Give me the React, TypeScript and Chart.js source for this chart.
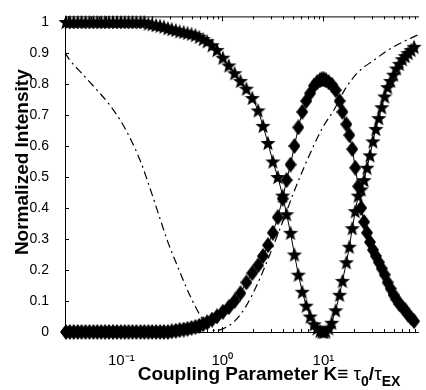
import React, { useEffect, useRef } from 'react';
import { Chart, registerables } from 'chart.js';

Chart.register(...registerables);

// ---- data ----
const markerK = [
  0.0283, 0.0309, 0.0338, 0.037, 0.0404, 0.0442, 0.0484, 0.0529, 0.0578, 0.0632,
  0.0692, 0.0756, 0.0827, 0.0904, 0.0989, 0.108, 0.118, 0.129, 0.141, 0.155,
  0.169, 0.185, 0.202, 0.221, 0.242, 0.264, 0.289, 0.316, 0.346, 0.378,
  0.414, 0.452, 0.495, 0.541,
  0.591, 0.647, 0.707, 0.791, 0.884, 1.011, 1.157, 1.323, 1.512, 1.729,
  1.977, 2.261, 2.528, 2.828, 3.162, 3.536, 3.955, 4.324, 4.729, 5.171,
  5.654, 6.183, 6.762, 7.394, 8.088, 8.647, 9.247, 9.67, 10.11, 10.57,
  11.31, 12.09, 13.22, 14.46, 15.46, 16.91, 18.08, 19.33, 20.68, 22.12,
  23.65, 25.29, 27.04, 28.92, 30.93, 33.07, 35.36, 37.82, 40.44, 43.24,
  46.24, 49.45, 52.88, 56.55, 60.47, 64.67, 69.15, 73.95, 79.09,
];

const starIntensity = [
  1, 1, 1, 1, 1, 1, 1, 1, 1, 1,
  1, 1, 1, 1, 1, 1, 1, 1, 1, 1,
  1, 0.995, 0.993, 0.99, 0.988, 0.985, 0.98, 0.977, 0.974, 0.97,
  0.968, 0.965, 0.962, 0.958,
  0.952, 0.945, 0.938, 0.925, 0.91, 0.885, 0.86, 0.835, 0.81, 0.785,
  0.755, 0.715, 0.665, 0.61, 0.55, 0.5, 0.44, 0.38, 0.32, 0.25,
  0.185, 0.13, 0.085, 0.05, 0.025, 0.012, 0.004, 0.001, 0, 0.002,
  0.012, 0.03, 0.07, 0.12, 0.165, 0.225, 0.275, 0.335, 0.39, 0.44,
  0.46, 0.49, 0.53, 0.57, 0.615, 0.655, 0.69, 0.725, 0.76, 0.79,
  0.81, 0.83, 0.85, 0.865, 0.88, 0.89, 0.9, 0.91, 0.92,
];

const diamondIntensity = [
  0, 0, 0, 0, 0, 0, 0, 0, 0, 0,
  0, 0, 0, 0, 0, 0, 0, 0, 0, 0,
  0, 0, 0, 0, 0, 0, 0, 0.002, 0.004, 0.006,
  0.008, 0.01, 0.013, 0.016,
  0.02, 0.025, 0.031, 0.04, 0.05, 0.065, 0.08, 0.1, 0.125, 0.16,
  0.19, 0.215, 0.245, 0.28, 0.32, 0.37, 0.43, 0.49, 0.54, 0.6,
  0.66, 0.71, 0.745, 0.77, 0.795, 0.805, 0.812, 0.815, 0.815, 0.812,
  0.805, 0.798, 0.78, 0.745, 0.71, 0.67, 0.635, 0.59, 0.53, 0.47,
  0.4, 0.355, 0.32, 0.29, 0.265, 0.245, 0.225, 0.205, 0.185, 0.16,
  0.14, 0.12, 0.105, 0.09, 0.08, 0.07, 0.055, 0.045, 0.035,
];

const dashK = [
  0.0277, 0.0309, 0.0404, 0.0565, 0.0756, 0.0989, 0.1265, 0.155, 0.185, 0.231,
  0.289, 0.362, 0.452, 0.565, 0.647, 0.739, 0.846, 1.011, 1.323, 1.729,
  2.261, 2.828, 3.536, 4.229, 4.945, 6.613, 9.67, 12.93, 16.17, 21.63,
  31.62, 49.45, 88.4,
];
const dashIntensity = [
  0.9, 0.877, 0.835, 0.783, 0.735, 0.68, 0.615, 0.55, 0.48, 0.385,
  0.29, 0.21, 0.135, 0.07, 0.038, 0.015, 0.005, 0.01, 0.035, 0.085,
  0.16, 0.235, 0.315, 0.38, 0.44, 0.54, 0.655, 0.72, 0.78, 0.835,
  0.877, 0.92, 0.96,
];

const yTickValues = [0, 0.1, 0.2, 0.3, 0.4, 0.5, 0.6, 0.7, 0.8, 0.9, 1];
const yTickLabels = ['0', '0.1', '0.2', '0.3', '0.4', '0.5', '0.6', '0.7', '0.8', '0.9', '1'];
const xTickValues = [0.1, 1, 10];
const xTickLabels = ['10\u207B\u00B9', '10\u2070', '10\u00B9'];
const xMinorTicks = [
  0.03, 0.04, 0.05, 0.06, 0.07, 0.08, 0.09,
  0.2, 0.3, 0.4, 0.5, 0.6, 0.7, 0.8, 0.9,
  2, 3, 4, 5, 6, 7, 8, 9,
  20, 30, 40, 50, 60, 70, 80,
];
const xMin = 0.0277;
const xMax = 88.4;
const yMin = 0;
const yMax = 1.018;

const yTitle = 'Normalized Intensity';
const xTitleParts = [
  { text: 'Coupling Parameter K\u2261 ', sub: false, weight: 'bold' },
  { text: '\u03C4', sub: false, weight: 'normal' },
  { text: '0', sub: true, weight: 'bold' },
  { text: '/', sub: false, weight: 'bold' },
  { text: '\u03C4', sub: false, weight: 'normal' },
  { text: 'EX', sub: true, weight: 'bold' },
];

const FONT = "'Liberation Sans', Arial, Helvetica, sans-serif";

function makeStar(size: number): HTMLCanvasElement {
  const c = document.createElement('canvas');
  c.width = size;
  c.height = size;
  const g = c.getContext('2d')!;
  const R = size / 2;
  const r = R * 0.42;
  const cy = R + R * 0.1;
  g.fillStyle = '#000';
  g.beginPath();
  for (let i = 0; i < 10; i++) {
    const a = -Math.PI / 2 + (i * Math.PI) / 5;
    const rr = i % 2 === 0 ? R : r;
    g.lineTo(R + rr * Math.cos(a), cy + rr * Math.sin(a));
  }
  g.closePath();
  g.fill();
  return c;
}

function makeDiamond(w: number, h: number): HTMLCanvasElement {
  const c = document.createElement('canvas');
  c.width = w;
  c.height = h;
  const g = c.getContext('2d')!;
  g.fillStyle = '#000';
  g.beginPath();
  g.moveTo(w / 2, 0);
  g.lineTo(w, h / 2);
  g.lineTo(w / 2, h);
  g.lineTo(0, h / 2);
  g.closePath();
  g.fill();
  return c;
}

const framePlugin = {
  id: 'matlabFrame',
  beforeDatasetsDraw(chart: any) {
    const { ctx, chartArea } = chart;
    const { left, right, top, bottom } = chartArea;
    const xs = chart.scales.x;
    const ys = chart.scales.y;
    ctx.save();
    ctx.strokeStyle = '#000';
    ctx.lineWidth = 1;
    ctx.beginPath();
    ctx.moveTo(left + 0.5, top + 0.5);
    ctx.lineTo(right, top + 0.5);
    ctx.moveTo(left + 0.5, top);
    ctx.lineTo(left + 0.5, bottom + 0.5);
    ctx.moveTo(left, bottom + 0.5);
    ctx.lineTo(right, bottom + 0.5);
    for (const v of yTickValues) {
      const py = Math.round(ys.getPixelForValue(v)) + 0.5;
      ctx.moveTo(left, py);
      ctx.lineTo(left + 4, py);
    }
    for (const v of xTickValues) {
      const px = Math.round(xs.getPixelForValue(v)) + 0.5;
      ctx.moveTo(px, bottom);
      ctx.lineTo(px, bottom - 5);
      ctx.moveTo(px, top);
      ctx.lineTo(px, top + 5);
    }
    for (const v of xMinorTicks) {
      const px = Math.round(xs.getPixelForValue(v)) + 0.5;
      ctx.moveTo(px, bottom);
      ctx.lineTo(px, bottom - 3);
      ctx.moveTo(px, top);
      ctx.lineTo(px, top + 3);
    }
    ctx.stroke();
    ctx.restore();
  },
  afterDraw(chart: any) {
    const { ctx, chartArea } = chart;
    const { left, top, bottom } = chartArea;
    ctx.save();
    ctx.fillStyle = '#000';
    // y title
    ctx.save();
    ctx.translate(left - 42, (top + bottom) / 2 - 12);
    ctx.rotate(-Math.PI / 2);
    ctx.font = `bold 19px ${FONT}`;
    ctx.textAlign = 'center';
    ctx.textBaseline = 'middle';
    ctx.fillText(yTitle, 0, 0);
    ctx.restore();
    // x title with subscripts
    const mainSize = 19;
    const subSize = 14;
    const fontFor = (p: any) => `${p.weight} ${p.sub ? subSize : mainSize}px ${FONT}`;
    let total = 0;
    const widths: number[] = [];
    for (const p of xTitleParts) {
      ctx.font = fontFor(p);
      const w = ctx.measureText(p.text).width;
      widths.push(w);
      total += w;
    }
    let x = left + 204 - total / 2;
    const baseY = bottom + 48;
    ctx.textAlign = 'left';
    ctx.textBaseline = 'alphabetic';
    xTitleParts.forEach((p, i) => {
      ctx.font = fontFor(p);
      ctx.fillText(p.text, x, p.sub ? baseY + 6 : baseY);
      x += widths[i];
    });
    ctx.restore();
  },
};

export default function App() {
  const canvasRef = useRef<HTMLCanvasElement | null>(null);

  useEffect(() => {
    if (!canvasRef.current) return;
    Chart.defaults.font.family = FONT;
    const star = makeStar(16);
    const diamond = makeDiamond(12, 16);

    const chart = new Chart(canvasRef.current, {
      type: 'scatter',
      data: {
        datasets: [
          {
            label: 'stars',
            data: markerK.map((k, i) => ({ x: k, y: starIntensity[i] })),
            showLine: true,
            borderColor: '#000',
            backgroundColor: '#000',
            borderWidth: 1,
            pointStyle: star as any,
            pointRadius: 6,
            clip: false as any,
          },
          {
            label: 'diamonds',
            data: markerK.map((k, i) => ({ x: k, y: diamondIntensity[i] })),
            showLine: true,
            borderColor: '#000',
            backgroundColor: '#000',
            borderWidth: 1,
            pointStyle: diamond as any,
            pointRadius: 6,
            clip: false as any,
          },
          {
            label: 'dashdot',
            data: dashK.map((k, i) => ({ x: k, y: dashIntensity[i] })),
            showLine: true,
            borderColor: '#000',
            borderWidth: 1.2,
            borderDash: [8, 4, 2, 4],
            pointRadius: 0,
            cubicInterpolationMode: 'monotone',
          },
        ],
      },
      options: {
        animation: false,
        responsive: true,
        maintainAspectRatio: false,
        layout: { padding: { top: 13, right: 0, left: 0, bottom: 0 } },
        plugins: { legend: { display: false }, tooltip: { enabled: false } },
        scales: {
          x: {
            type: 'logarithmic',
            min: xMin,
            max: xMax,
            grid: { display: false },
            border: { display: false },
            afterBuildTicks: (scale: any) => {
              scale.ticks = xTickValues.map((v) => ({ value: v, major: true }));
            },
            afterFit: (scale: any) => {
              scale.height = 58;
            },
            ticks: {
              autoSkip: false,
              maxRotation: 0,
              color: '#000',
              padding: 12,
              font: { size: 15, family: FONT },
              callback: (_v: any, i: number) => xTickLabels[i],
            },
          },
          y: {
            type: 'linear',
            min: yMin,
            max: yMax,
            grid: { display: false },
            border: { display: false },
            afterBuildTicks: (scale: any) => {
              scale.ticks = yTickValues.map((v) => ({ value: v }));
            },
            afterFit: (scale: any) => {
              scale.width = 65;
            },
            ticks: {
              color: '#000',
              padding: 8,
              font: { size: 14, family: FONT },
              callback: (_v: any, i: number) => yTickLabels[i],
            },
          },
        },
      },
      plugins: [framePlugin],
    } as any);
    return () => chart.destroy();
  }, []);

  return (
    <div style={{ position: 'fixed', left: 0, top: 0, width: 426, height: 390, background: '#fff' }}>
      <canvas ref={canvasRef} />
    </div>
  );
}
